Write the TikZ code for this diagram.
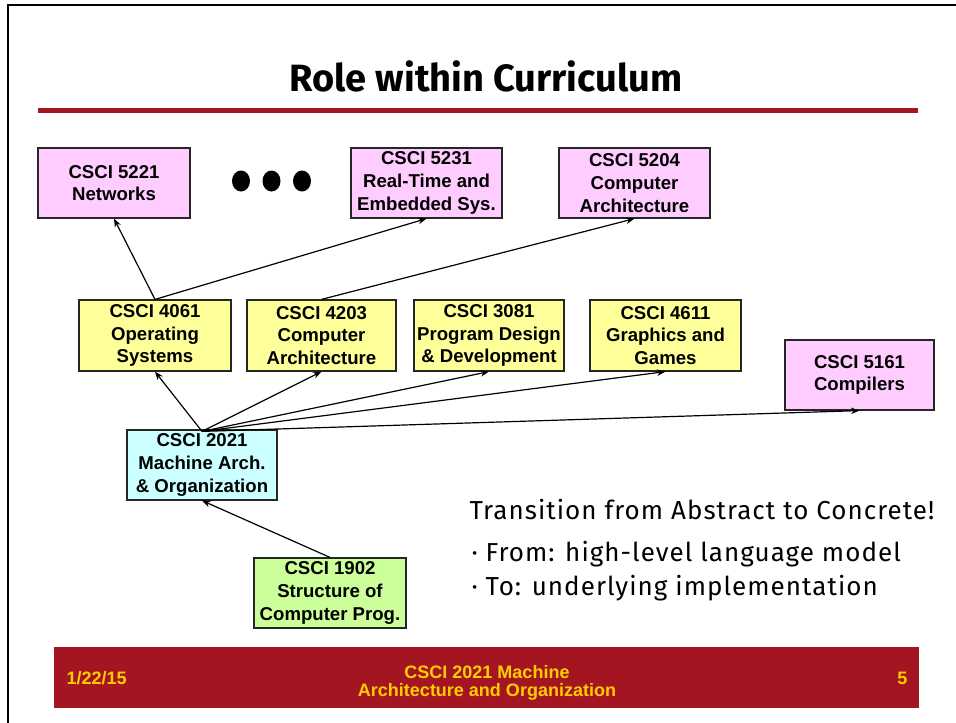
\documentclass[tikz,border=0pt]{standalone}
\usepackage{fontspec}
\setmainfont{Liberation Sans}
\newfontfamily\handfont{Fira Sans}
\newfontfamily\handspaced{Fira Sans}[LetterSpace=4]
\usetikzlibrary{arrows.meta}

\definecolor{slidered}{HTML}{A31621}
\definecolor{footyellow}{HTML}{FFCC00}
\definecolor{gradpink}{HTML}{FFCCFF}
\definecolor{upperyellow}{HTML}{FFFF99}
\definecolor{corecyan}{HTML}{CCFFFF}
\definecolor{introgreen}{HTML}{CCFF99}

\tikzset{
  course/.style={draw=black!85, line width=1.2pt, align=center,
    inner sep=0pt, minimum height=70pt,
    font=\bfseries\fontsize{18.6}{22.8}\selectfont},
  grad/.style={course, fill=gradpink},
  upper/.style={course, fill=upperyellow},
  core/.style={course, fill=corecyan},
  intro/.style={course, fill=introgreen},
  prereq/.style={-{Stealth[length=8.5pt,width=6.5pt]}, line width=1.2pt, black},
  footnote/.style={text=footyellow, font=\bfseries\fontsize{18}{18.5}\selectfont, align=center},
  remarkline/.style={anchor=base west, font=\handspaced\fontsize{26}{34}\selectfont}
}

\begin{document}
\begin{tikzpicture}[x=1pt, y=-1pt]
  \useasboundingbox (0,0) rectangle (956,723);
  \fill[white] (0,0) rectangle (956,723);

  % page frame (top and left edges)
  \draw[line width=2.2pt] (7.8,723) -- (7.8,5) -- (956,5);

  % title and rule
  \node[font=\handfont\bfseries\fontsize{38}{44}\selectfont] (title) at (486,76) {Role within Curriculum};
  \fill[slidered] (38,107.5) rectangle (918,112.5);

  % graduate courses
  \node[grad, minimum width=152pt] (c5221) at (114,183) {CSCI 5221\\Networks};
  \node[grad, minimum width=151pt] (c5231) at (426.5,183) {CSCI 5231\\Real-Time and\\Embedded Sys.};
  \node[grad, minimum width=151pt] (c5204) at (634.5,183) {CSCI 5204\\Computer\\Architecture};
  \foreach \dx in {241,271.5,302}
    \fill (\dx,181) ellipse (9pt and 10.5pt);

  % upper-division courses
  \node[upper, minimum width=152pt, minimum height=71pt] (c4061) at (155,335.5) {CSCI 4061\\Operating\\Systems};
  \node[upper, minimum width=149pt, minimum height=71pt] (c4203) at (321.5,335.5) {CSCI 4203\\Computer\\Architecture};
  \node[upper, minimum width=150pt, minimum height=71pt] (c3081) at (489,335.5) {CSCI 3081\\Program Design\\\& Development};
  \node[upper, minimum width=151pt, minimum height=71pt] (c4611) at (665.5,335.5) {CSCI 4611\\Graphics and\\Games};
  \node[grad, minimum width=149pt] (c5161) at (859.5,375) {CSCI 5161\\Compilers};

  % this course and its prerequisite
  \node[core, minimum width=150pt] (c2021) at (202,465) {CSCI 2021\\Machine Arch.\\\& Organization};
  \node[intro, minimum width=152pt] (c1902) at (330,593) {CSCI 1902\\Structure of\\Computer Prog.};

  % prerequisite arrows
  \coordinate (fan) at ([yshift=-2pt]c2021.north);
  \draw[prereq] (fan) -- (c4061.south);
  \draw[prereq] (fan) -- (c4203.south);
  \draw[prereq] (fan) -- (c3081.south);
  \draw[prereq] (fan) -- (c4611.south);
  \draw[prereq] (fan) -- (c5161.south);
  \draw[prereq] (c4061.north) -- (c5221.south);
  \draw[prereq] (c4061.north) -- (c5231.south);
  \draw[prereq] (c4203.north) -- (c5204.south);
  \draw[prereq] (c1902.north) -- (c2021.south);

  % remark
  \node[remarkline] (remark) at (466,519) {Transition from Abstract to Concrete!};
  \node[remarkline] (pfrom) at (468,561) {\textperiodcentered\ From: high-level language model};
  \node[remarkline] (pto) at (468,595) {\textperiodcentered\ To: underlying implementation};

  % footer bar
  \fill[slidered] (54,647) rectangle (919,708);
  \node[footnote, anchor=west] (fdate) at (63,678) {1/22/15};
  \node[footnote] (fcourse) at (487,683) {CSCI 2021 Machine\\Architecture and Organization};
  \node[footnote, anchor=east] (fpage) at (911,678) {5};
\end{tikzpicture}
\end{document}
